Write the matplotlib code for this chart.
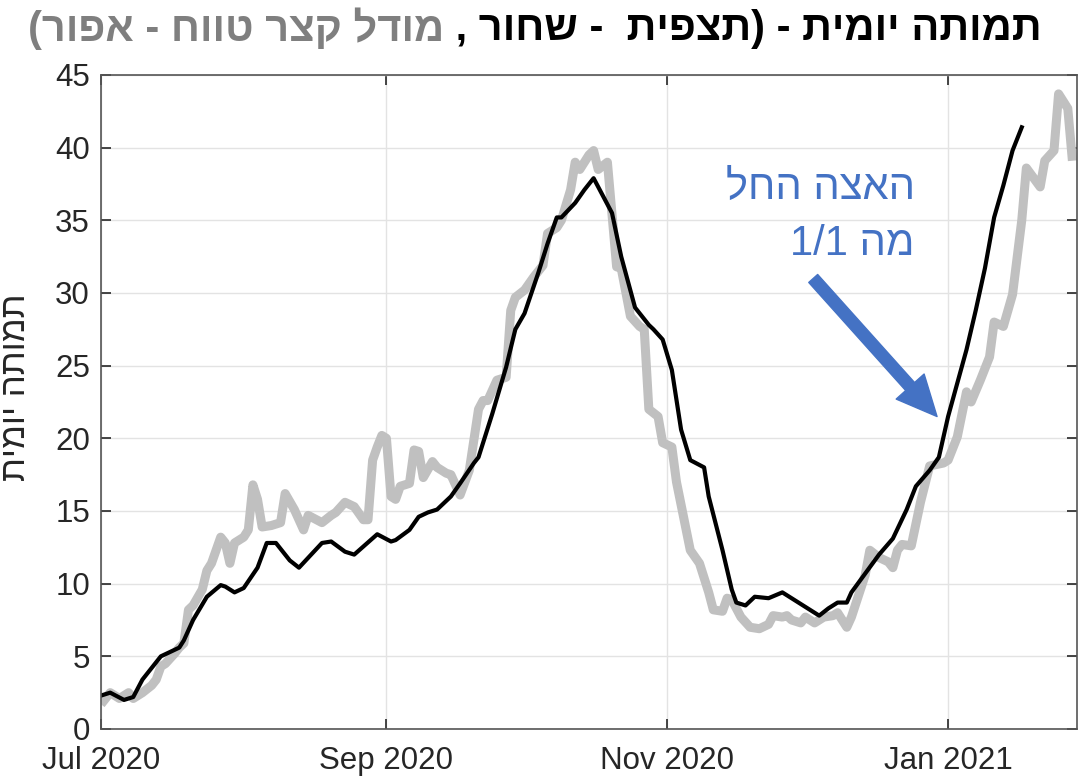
import matplotlib
matplotlib.use("Agg")
import matplotlib.pyplot as plt
import matplotlib.dates as mdates
import pandas as pd

# days counted from 1 Jul 2020
gray_day = [0, 2, 4, 6, 7, 9, 11, 12, 13, 14, 16, 17, 18, 19, 20, 22, 23, 24, 26, 27,
            28, 29, 31, 32, 33, 34, 35, 37, 39, 40, 42, 44, 45, 48, 50, 51, 53, 55, 57, 58,
            59, 60, 61, 62, 63, 64, 65, 67, 68, 69, 70, 72, 73, 75, 76, 78, 80, 82, 83, 84,
            86, 88, 89, 90, 92, 94, 96, 97, 99, 100, 102, 103, 104, 106, 107, 108, 110, 112, 113, 115,
            117, 118, 119, 121, 122, 124, 125, 128, 130, 132, 133, 135, 136, 137, 139, 141, 143, 145, 146, 148,
            149, 150, 152, 153, 155, 157, 159, 160, 162, 163, 166, 167, 169, 171, 172, 173, 174, 176, 178, 180,
            183, 184, 186, 188, 189, 191, 193, 194, 196, 198, 200, 201, 204, 205, 207, 208, 210, 211]
gray_val = [1.7, 2.5, 2.1, 2.5, 2.1, 2.5, 3.0, 3.4, 4.3, 4.5, 5.2, 5.6, 5.9, 8.2, 8.5, 9.6, 10.9, 11.4, 13.2, 12.8,
            11.4, 12.8, 13.2, 13.7, 16.8, 15.8, 13.9, 14.0, 14.2, 16.2, 15.1, 13.7, 14.7, 14.2, 14.7, 14.9, 15.6, 15.3, 14.4, 14.4,
            18.5, 19.4, 20.2, 20.0, 16.0, 15.8, 16.7, 16.9, 19.2, 19.1, 17.3, 18.4, 18.0, 17.6, 17.5, 16.1, 17.8, 22.0, 22.6, 22.6,
            24.0, 24.2, 28.8, 29.7, 30.2, 31.1, 31.9, 34.1, 34.5, 35.0, 37.1, 39.0, 38.5, 39.5, 39.8, 38.5, 39.0, 31.8, 31.7, 28.4,
            27.7, 27.5, 22.0, 21.5, 19.7, 19.4, 17.0, 12.3, 11.4, 9.4, 8.2, 8.1, 9.0, 8.9, 7.7, 7.0, 6.9, 7.2, 7.8, 7.7,
            7.8, 7.5, 7.3, 7.7, 7.3, 7.7, 7.8, 8.0, 7.0, 7.7, 10.6, 12.3, 11.8, 11.5, 11.1, 12.3, 12.7, 12.6, 15.6, 18.1,
            18.3, 18.5, 20.1, 23.2, 22.5, 24.0, 25.6, 28.0, 27.7, 29.9, 35.0, 38.6, 37.3, 39.1, 39.8, 43.7, 42.7, 39.1]

black_day = [0, 2, 5, 7, 9, 11, 13, 17, 18, 20, 23, 26, 27, 29, 31, 34, 36, 38, 41, 43,
             48, 50, 53, 55, 60, 63, 64, 67, 69, 71, 73, 76, 78, 81, 82, 85, 88, 90, 92, 95,
             97, 99, 100, 103, 105, 107, 108, 111, 113, 116, 119, 120, 122, 124, 126, 128, 131, 132, 135, 137,
             138, 140, 142, 145, 148, 150, 153, 156, 158, 160, 162, 163, 166, 169, 172, 175, 177, 180, 182, 184,
             188, 190, 192, 194, 196, 198, 200]
black_val = [2.3, 2.5, 2.0, 2.2, 3.4, 4.2, 5.0, 5.6, 6.1, 7.5, 9.1, 9.9, 9.8, 9.4, 9.7, 11.1, 12.8, 12.8, 11.6, 11.1,
             12.8, 12.9, 12.2, 12.0, 13.4, 12.9, 13.0, 13.7, 14.6, 14.9, 15.1, 16.0, 16.9, 18.3, 18.7, 21.7, 24.9, 27.5, 28.6, 31.4,
             33.4, 35.2, 35.2, 36.2, 37.1, 37.9, 37.3, 35.5, 32.5, 29.0, 27.8, 27.5, 26.8, 24.7, 20.6, 18.5, 18.0, 16.0, 12.3, 9.6,
             8.7, 8.5, 9.1, 9.0, 9.4, 9.0, 8.4, 7.8, 8.3, 8.7, 8.7, 9.4, 10.7, 12.0, 13.1, 15.1, 16.7, 17.8, 18.7, 21.5,
             26.1, 28.8, 31.7, 35.2, 37.4, 39.8, 41.4]

start = pd.Timestamp("2020-07-01")
gray_dates = start + pd.to_timedelta(gray_day, unit="D")
black_dates = start + pd.to_timedelta(black_day, unit="D")

title_black = "תמותה יומית - (תצפית  - שחור , "
title_gray = "מודל קצר טווח - אפור)"
ylabel = "תמותה יומית"
note_line1 = "האצה החל"
note_line2 = "1/1 המ"  # already in visual order


def rtl(s):
    # matplotlib has no bidi: reverse and mirror brackets
    swap = {"(": ")", ")": "("}
    return "".join(swap.get(c, c) for c in s[::-1])


heb = ["Liberation Sans", "DejaVu Sans"]
plt.rcParams["font.family"] = heb

fig = plt.figure(figsize=(10.89, 7.8), dpi=100)
ax = fig.add_axes([101 / 1089, 1 - 729 / 780, (1077 - 101) / 1089, (729 - 75) / 780])

ax.plot(gray_dates, gray_val, color="#c0c0c0", lw=6.5, solid_joinstyle="round", solid_capstyle="butt")
ax.plot(black_dates, black_val, color="black", lw=3, solid_joinstyle="round")

ax.set_ylim(0, 45)
ax.set_yticks(range(0, 46, 5))
ax.set_xlim(pd.Timestamp("2020-07-01"), pd.Timestamp("2021-01-29"))
ax.xaxis.set_major_locator(mdates.MonthLocator(bymonth=[1, 3, 5, 7, 9, 11]))
ax.xaxis.set_major_formatter(mdates.DateFormatter("%b %Y"))

ax.grid(True, color="#e3e3e3", lw=1)
ax.set_axisbelow(True)
ax.tick_params(direction="in", length=7, width=1.2, color="#262626", labelsize=22.5,
               labelcolor="#262626", top=True, right=True)
ax.tick_params(axis="x", pad=12)
ax.tick_params(axis="y", pad=8)
for s in ax.spines.values():
    s.set_color("#555555")
    s.set_linewidth(1.2)

ax.set_ylabel(rtl(ylabel), fontsize=25, color="#262626")
ax.yaxis.set_label_coords(-0.071, 0.523)

# annotation
blue = "#4472c4"
tip = (start + pd.Timedelta(days=181.6), 21.5)
tail = (start + pd.Timedelta(days=154.7), 31.0)
ax.annotate("", xy=tip, xytext=tail,
            arrowprops=dict(arrowstyle="simple,head_length=1.45,head_width=1.35,tail_width=0.43",
                            color=blue, mutation_scale=20, shrinkA=0, shrinkB=0))
fig.text(915 / 1089, 1 - 188 / 780, rtl(note_line1), color=blue, fontsize=30,
         ha="right", va="center")
fig.text(915 / 1089, 1 - 244 / 780, note_line2, color=blue, fontsize=30,
         ha="right", va="center")

# two-coloured title
tfont = dict(fontsize=30, fontweight="bold", family=["Liberation Sans Narrow", "Liberation Sans", "DejaVu Sans"],
             va="center")
tb = fig.text(1042 / 1089, 1 - 29 / 780, rtl(title_black), color="black", ha="right", **tfont)
fig.canvas.draw()
bb = tb.get_window_extent()
fig.text(bb.x0 / fig.bbox.width, 1 - 29 / 780, rtl(title_gray), color="#7f7f7f", ha="right", **tfont)

fig.savefig("out.png", dpi=100)
